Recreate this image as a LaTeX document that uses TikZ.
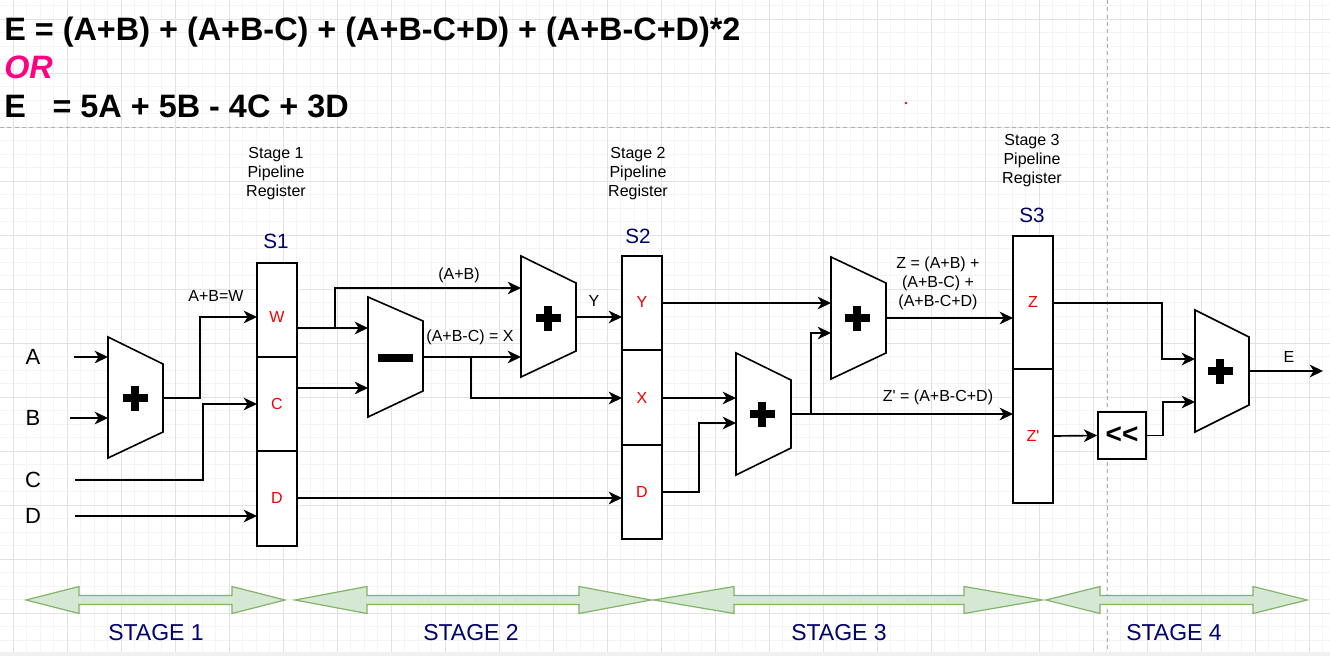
\documentclass[tikz,border=0pt]{standalone}
\usepackage{fontspec}
\setmainfont{Liberation Sans}
\usetikzlibrary{arrows.meta}
\definecolor{gridminor}{RGB}{244,244,244}
\definecolor{gridmajor}{RGB}{226,226,226}
\definecolor{dashgrey}{RGB}{175,175,175}
\definecolor{navy}{RGB}{0,0,110}
\definecolor{pinkor}{RGB}{255,0,128}
\definecolor{gfill}{RGB}{213,232,212}
\definecolor{gstroke}{RGB}{130,179,102}
\definecolor{celltext}{RGB}{240,0,0}
\newcommand\greenarrow[4]{% x1, x2, h1, h2
  \filldraw[garrow] (#1,600) -- ({#1+#3},586.5) -- ({#1+#3},595.5) -- ({#2-#4},595.5) -- ({#2-#4},586.5) -- (#2,600)
    -- ({#2-#4},613.5) -- ({#2-#4},604.5) -- ({#1+#3},604.5) -- ({#1+#3},613.5) -- cycle;}
\newcommand\plussign[2]{%
  \fill[black] ({#1-12.5},{#2-3.8}) rectangle ({#1+12.5},{#2+3.8});
  \fill[black] ({#1-3.8},{#2-12.5}) rectangle ({#1+3.8},{#2+12.5});}
\begin{document}
\begin{tikzpicture}[x=0.75pt,y=-0.75pt,
  conn/.style={line width=1.25pt, -{Stealth[length=10pt,width=9.5pt,inset=3pt]}},
  unit/.style={line width=1.2pt, fill=white, line join=miter},
  regbox/.style={line width=1.2pt, fill=white},
  lbl/.style={font=\fontsize{12}{14.25}\selectfont, inner sep=0pt, align=center},
  celltxt/.style={font=\fontsize{12}{14}\selectfont, text=celltext, inner sep=0pt},
  title/.style={font=\fontsize{24.3}{28}\selectfont\bfseries, inner sep=0pt, anchor=base west},
  inlbl/.style={font=\fontsize{16.5}{18}\selectfont, inner sep=0pt},
  sname/.style={font=\fontsize{15.5}{18}\selectfont, text=navy, inner sep=0pt},
  stagelbl/.style={font=\fontsize{17.25}{20}\selectfont, text=navy, inner sep=0pt},
  garrow/.style={fill=gfill, draw=gstroke, line width=0.9pt, line join=miter},
]
\useasboundingbox (0,0) rectangle (1330,656);
\fill[white] (0,0) rectangle (1330,656);
% grid
\foreach \i in {0,...,97} \draw[gridminor, line width=0.6pt] ({13+13.5*\i},0) -- ({13+13.5*\i},656);
\foreach \j in {-1,...,47} \draw[gridminor, line width=0.6pt] (0,{19+13.5*\j}) -- (1330,{19+13.5*\j});
\foreach \i in {0,...,24} \draw[gridmajor, line width=0.7pt] ({13+54*\i},0) -- ({13+54*\i},656);
\foreach \j in {0,...,11} \draw[gridmajor, line width=0.7pt] (0,{19+54*\j}) -- (1330,{19+54*\j});
\draw[dashgrey, line width=0.7pt, dash pattern=on 3pt off 2.5pt] (0,127) -- (1330,127);
\draw[dashgrey, line width=0.7pt, dash pattern=on 3pt off 2.5pt] (1107,0) -- (1107,656);
\fill[gray!12] (0,652) rectangle (1330,656);
\fill[red] (906,103) circle (1.3);

% title
\node[title] (t1) at (4,41) {E = (A+B) + (A+B-C) + (A+B-C+D) + (A+B-C+D)*2};
\node[title, text=pinkor, font=\fontsize{24.3}{28}\selectfont\bfseries\itshape] (t2) at (4,79) {OR};
\node[title] (t3) at (4,118) {E\hspace{20pt}= 5A + 5B - 4C + 3D};

% ---------- stage 1 ----------
\node[inlbl] (lA) at (33,357) {A};
\node[inlbl] (lB) at (33,418) {B};
\node[inlbl] (lC) at (33,480) {C};
\node[inlbl] (lD) at (33,516) {D};
\coordinate (Ain) at (74,357);
\coordinate (Bin) at (70,418);
\coordinate (Cin) at (75,480);
\coordinate (Din) at (75,516);

\draw[unit] (108,337) -- (163,364) -- (163,432) -- (108,458) -- cycle;
\plussign{135}{398}
\coordinate (add1A) at (108,357);
\coordinate (add1B) at (108,418);
\coordinate (add1out) at (163,398);

% S1 register
\node[lbl] (cap1) at (276,174) {Stage 1\\Pipeline\\Register};
\node[sname] (s1) at (276,241) {S1};
\draw[regbox] (257,263) rectangle (297,546);
\draw[line width=1.2pt] (257,357) -- (297,357);
\draw[line width=1.2pt] (257,451) -- (297,451);
\node[celltxt] (cW) at (277,317) {W};
\node[celltxt] (cC) at (277,404) {C};
\node[celltxt] (cD) at (277,498) {D};
\coordinate (S1Win) at (257,317);
\coordinate (S1Cin) at (257,404);
\coordinate (S1Din) at (257,516);
\coordinate (S1Wout) at (297,328);
\coordinate (S1Cout) at (297,388);
\coordinate (S1Dout) at (297,498);

\draw[conn] (Ain) -- (add1A);
\draw[conn] (Bin) -- (add1B);
\draw[conn] (add1out) -- ++(37,0) |- (S1Win);
\node[lbl] (lW) at (216,296) {A+B=W};
\draw[conn] (Cin) -- ++(128,0) |- (S1Cin);
\draw[conn] (Din) -- (S1Din);

% ---------- stage 2 ----------
\draw[unit] (368,297) -- (423,321) -- (423,391) -- (368,417) -- cycle;
\fill[black] (378,354) rectangle (413,361.5);
\coordinate (subA) at (368,328);
\coordinate (subB) at (368,388);
\coordinate (subout) at (423,357);

\draw[unit] (521,256) -- (576,283) -- (576,351) -- (521,377) -- cycle;
\plussign{548}{318}
\coordinate (add2A) at (521,288);
\coordinate (add2B) at (521,357);
\coordinate (add2out) at (576,317);

\node[lbl] (cap2) at (638,174) {Stage 2\\Pipeline\\Register};
\node[sname] (s2) at (638,236) {S2};
\draw[regbox] (622,256) rectangle (662,539);
\draw[line width=1.2pt] (622,350) -- (662,350);
\draw[line width=1.2pt] (622,445) -- (662,445);
\node[celltxt] (cY) at (642,302) {Y};
\node[celltxt] (cX) at (642,398) {X};
\node[celltxt] (cD2) at (642,492) {D};
\coordinate (S2Yin) at (622,317);
\coordinate (S2Xin) at (622,398);
\coordinate (S2Din) at (622,498);
\coordinate (S2Yout) at (662,303);
\coordinate (S2Xout) at (662,398);
\coordinate (S2Dout) at (662,492);

\coordinate (br1) at (335,328);
\coordinate (br2) at (471,357);
\draw[conn] (S1Wout) -- (subA);
\draw[conn] (br1) |- (add2A);
\node[lbl] (lAB) at (459,275) {(A+B)};
\draw[conn] (S1Cout) -- (subB);
\draw[conn] (S1Dout) -- (S2Din);
\draw[conn] (subout) -- (add2B);
\node[lbl] (lX) at (470,337) {(A+B-C) = X};
\draw[conn] (br2) |- (S2Xin);
\draw[conn] (add2out) -- (S2Yin);
\node[lbl] (lY) at (594,301) {Y};

% ---------- stage 3 ----------
\draw[unit] (736,353) -- (791,380) -- (791,448) -- (736,475) -- cycle;
\plussign{762}{414}
\coordinate (add4A) at (736,398);
\coordinate (add4B) at (736,423);
\coordinate (add4out) at (791,414);

\draw[unit] (831,257) -- (886,283) -- (886,353) -- (831,379) -- cycle;
\plussign{857}{318}
\coordinate (add3A) at (831,303);
\coordinate (add3B) at (831,333);
\coordinate (add3out) at (886,318);

\node[lbl] (cap3) at (1032,161) {Stage 3\\Pipeline\\Register};
\node[sname] (s3) at (1032,215) {S3};
\draw[regbox] (1013,236) rectangle (1053,503);
\draw[line width=1.2pt] (1013,369) -- (1053,369);
\node[celltxt] (cZ) at (1033,302) {Z};
\node[celltxt] (cZp) at (1033,436) {Z\textquotesingle};
\coordinate (S3Zin) at (1013,318);
\coordinate (S3Zpin) at (1013,414);
\coordinate (S3Zout) at (1053,303);
\coordinate (S3Zpout) at (1053,436);

\draw[conn] (S2Yout) -- (add3A);
\draw[conn] (S2Xout) -- (add4A);
\draw[conn] (S2Dout) -- ++(37,0) |- (add4B);
\coordinate (br3) at (811,414);
\draw[conn] (add4out) -- (S3Zpin);
\draw[conn] (br3) |- (add3B);
\draw[conn] (add3out) -- (S3Zin);
\node[lbl] (lZ) at (938,283) {Z = (A+B) +\\(A+B-C) +\\(A+B-C+D)};
\node[lbl] (lZp) at (938,397) {Z\textquotesingle{} = (A+B-C+D)};

% ---------- stage 4 ----------
\node[draw, line width=1.2pt, fill=white, minimum width=36pt, minimum height=35.25pt, inner sep=0pt,
  font=\fontsize{21}{22}\selectfont\bfseries] (shift) at (1122,435.5) {{<}{<}};
\draw[unit] (1195,310) -- (1249,337) -- (1249,405) -- (1195,432) -- cycle;
\plussign{1220}{371}
\coordinate (addFA) at (1195,359);
\coordinate (addFB) at (1195,402);
\coordinate (addFout) at (1249,371);
\coordinate (Eout) at (1323,371);

\draw[conn] (S3Zout) -- ++(109,0) |- (addFA);
\draw[conn] (S3Zpout) -- (shift.west);
\draw[conn] (shift.east) -- ++(16,0) |- (addFB);
\draw[conn] (addFout) -- (Eout);
\node[lbl] (lE) at (1289,357) {E};

% ---------- stage arrows ----------
\greenarrow{26}{285}{53}{53}
\greenarrow{295}{651}{72}{72}
\greenarrow{654}{1042}{80}{78}
\greenarrow{1046}{1307}{54}{54}
\node[stagelbl] (st1) at (156,633) {STAGE 1};
\node[stagelbl] (st2) at (471,633) {STAGE 2};
\node[stagelbl] (st3) at (839,633) {STAGE 3};
\node[stagelbl] (st4) at (1174,633) {STAGE 4};
\end{tikzpicture}
\end{document}
